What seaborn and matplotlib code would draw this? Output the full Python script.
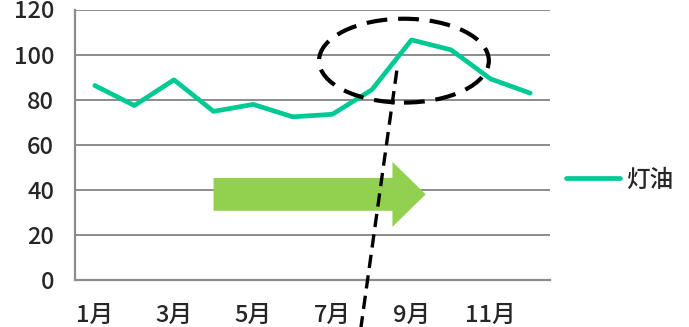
import matplotlib
matplotlib.use("Agg")
import matplotlib.pyplot as plt
from matplotlib.patches import Ellipse, Polygon
from matplotlib.lines import Line2D
import seaborn as sns
import pandas as pd

# Monthly kerosene index
months = ["1月", "2月", "3月", "4月", "5月", "6月",
          "7月", "8月", "9月", "10月", "11月", "12月"]
kerosene = [86.3, 77.4, 88.8, 74.8, 77.9, 72.4, 73.5, 84.4, 106.5, 102.1, 89.2, 82.9]
series_name = "灯油"
y_ticks = [0, 20, 40, 60, 80, 100, 120]

sns.set_style("white")
plt.rcParams["font.family"] = ["Noto Sans CJK JP", "DejaVu Sans"]

df = pd.DataFrame({"pos": range(len(months)), "value": kerosene, "series": series_name})

fig = plt.figure(figsize=(6.89, 3.27), dpi=100)
ax = fig.add_axes([75 / 689, 1 - 280 / 327, 475 / 689, 270.5 / 327])

green = "#00C994"
sns.lineplot(data=df, x="pos", y="value", hue="series", palette=[green],
             linewidth=3.4, ax=ax, legend=True)
for ln in ax.get_lines():
    ln.set_solid_joinstyle("round")
    ln.set_solid_capstyle("round")

tick_font = {"size": 17, "weight": "medium"}

ax.set_xlim(-0.5, len(months) - 0.5)
ax.set_ylim(0, 120)
ax.set_yticks(y_ticks)
ax.set_yticklabels([str(v) for v in y_ticks], fontdict=tick_font)
ax.yaxis.grid(True, color="#8c8c8c", linewidth=1.4)
ax.set_axisbelow(True)

# category labels on odd months, boundary ticks pointing inward
ax.set_xticks(list(range(0, len(months), 2)))
ax.set_xticklabels(months[::2], fontdict=tick_font)
ax.set_xticks([i - 0.5 for i in range(len(months) + 1)], minor=True)
ax.tick_params(axis="x", which="major", length=0, pad=17)
ax.tick_params(axis="x", which="minor", direction="in", length=7, width=1.4, color="#8c8c8c")
ax.tick_params(axis="y", length=0, pad=15)
ax.set_xlabel("")
ax.set_ylabel("")

for side in ["top", "right"]:
    ax.spines[side].set_visible(False)
for side in ["left", "bottom"]:
    ax.spines[side].set_color("#8c8c8c")
    ax.spines[side].set_linewidth(1.6)

# trend arrow
body_h, head_h = 7.3, 14.4
x0, x_head, x_tip, yc = 3.0, 7.52, 8.36, 38.0
arrow = Polygon([(x0, yc + body_h), (x_head, yc + body_h), (x_head, yc + head_h),
                 (x_tip, yc), (x_head, yc - head_h), (x_head, yc - body_h),
                 (x0, yc - body_h)], closed=True, facecolor="#92D050",
                edgecolor="none", zorder=1.5)
ax.add_patch(arrow)

# highlight around the autumn peak
ring = Ellipse((7.81, 97.3), 4.29, 37.2, fill=False, edgecolor="black",
               linewidth=3.0, linestyle=(0, (5, 2.6)), zorder=4)
ax.add_patch(ring)
pointer = Line2D([7.63, 6.70], [92.9, -24.0], color="black", linewidth=2.4,
                 linestyle=(0, (4, 2.2)), clip_on=False, zorder=4)
ax.add_line(pointer)

leg = ax.legend(loc="center left", bbox_to_anchor=(566 / 689, 1 - 180 / 327),
                bbox_transform=fig.transFigure, frameon=False,
                prop={"size": 17, "weight": "medium"},
                handlelength=2.3, handletextpad=0.25, borderpad=0, borderaxespad=0)
for h in leg.get_lines():
    h.set_linewidth(3.4)
    h.set_solid_capstyle("round")

fig.savefig("out.png", dpi=100)
